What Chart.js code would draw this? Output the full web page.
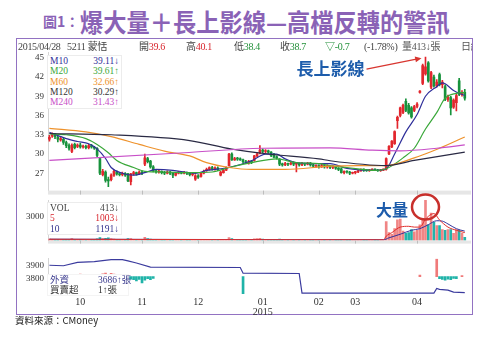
<!DOCTYPE html>
<html>
<head>
<meta charset="utf-8">
<script src="https://cdn.jsdelivr.net/npm/chart.js@4.4.1/dist/chart.umd.min.js"></script>
<style>
  body { margin: 0; width: 487px; height: 339px; background: #fff; position: relative; overflow: hidden;
         font-family: "Liberation Serif", "Noto Sans CJK TC", serif; }
  .abs { position: absolute; white-space: nowrap; }
  canvas { position: absolute; left: 0; }
  .cjk { font-family: "Noto Sans CJK TC", sans-serif; }
  #frame { left: 16px; top: 38px; width: 455px; height: 275px; border: 1.5px solid #9272c2; }
  #header { left: 17px; top: 40px; width: 455px; height: 13px; overflow: hidden; font-size: 10px; letter-spacing: -0.3px; line-height: 13px; color: #444; z-index: 5; }
  #header span { position: absolute; top: 0; }
  #header span span { position: static; }
  .up { color: #d8262d; }
  .dn { color: #23913a; }
  .lg { background: #fff; border: 1px solid #ececec; font-size: 9.5px; z-index: 5; }
  .lg div { position: relative; height: 10.3px; line-height: 10.3px; }
  .lg b { font-weight: normal; position: absolute; left: 2px; }
  .lg i { font-style: normal; position: absolute; }
  .note { color: #1d5cab; font-weight: 700; z-index: 6; line-height: 1; }
</style>
</head>
<body>
<div class="abs cjk" style="left:43px;top:14px;font-size:14px;font-weight:700;color:#8a62b6;line-height:1">圖1：</div>
<div class="abs cjk" style="left:80px;top:9px;font-size:25px;font-weight:700;color:#8a62b6;line-height:1;transform:scaleX(0.93);transform-origin:left top">爆大量＋長上影線—高檔反轉的警訊</div>
<div class="abs" id="frame"></div>

<div class="abs" id="header">
  <span style="left:1px">2015/04/28</span>
  <span style="left:50px">5211 蒙恬</span>
  <span style="left:122px">開<span class="up">39.6</span></span>
  <span style="left:169px">高<span class="up">40.1</span></span>
  <span style="left:217px">低<span class="dn">38.4</span></span>
  <span style="left:263px">收<span class="dn">38.7</span></span>
  <span class="dn" style="left:308px">▽-0.7</span>
  <span style="left:347px">(-1.78%)</span>
  <span style="left:385px;color:#555">量413↓張</span>
  <span style="left:444px;color:#555">日線</span>
</div>

<canvas id="price" width="487" height="160" style="top:40px"></canvas>
<canvas id="volume" width="487" height="62" style="top:188px"></canvas>
<canvas id="chip" width="487" height="70" style="top:249px"></canvas>

<div class="abs lg" style="left:47px;top:55px;width:73px;height:52px;">
  <div style="color:#2f2f9a"><b>M10</b><i style="right:2px">39.11↓</i></div>
  <div style="color:#3aa83a"><b>M20</b><i style="right:2px">39.61↑</i></div>
  <div style="color:#ee922c"><b>M60</b><i style="right:2px">32.66↑</i></div>
  <div style="color:#333"><b>M120</b><i style="right:2px">30.29↑</i></div>
  <div style="color:#c84fc8"><b>M240</b><i style="right:2px">31.43↑</i></div>
</div>
<div class="abs lg" style="left:47px;top:202px;width:73px;height:31px;">
  <div style="color:#444"><b>VOL</b><i style="right:2px">413↓</i></div>
  <div style="color:#d8262d"><b>5</b><i style="right:2px">1003↓</i></div>
  <div style="color:#33338e"><b>10</b><i style="right:2px">1191↓</i></div>
</div>
<div class="abs lg" style="left:47px;top:274px;width:80px;height:20px;border-color:#f4f4f4">
  <div style="color:#3b3b8e"><b>外資</b><i style="left:50px">3686↑張</i></div>
  <div style="color:#333"><b>買賣超</b><i style="left:50px">1↑張</i></div>
</div>

<div class="abs note cjk" id="noteShadow" style="font-size:17px">長上影線</div>
<div class="abs note cjk" id="noteVol" style="font-size:16px">大量</div>

<div class="abs cjk" style="left:15px;top:316px;font-size:9.5px;color:#222;line-height:1">資料來源：CMoney</div>

<script>
// daily candles, 2014/09 .. 2015/04/28
const open = [
  32.3,32.8,33.0,32.6,32.2, 32.3,31.8,31.3,30.4,31.5, 31.2,31.4,31.1,31.2,31.0, 31.3,31.0,30.9,29.3,26.8,
  27.2,26.0,26.0,26.7,27.2, 26.9,26.8,27.0,26.9,25.7, 26.9,27.1,26.9,27.2,28.4, 29.3,28.9,28.0,27.4,27.2,
  27.3,27.1,27.0,27.2,27.0, 26.7,27.0,27.2,27.0,27.1, 27.0,26.8,26.1,26.6,26.5, 27.0,27.4,27.6,27.9,27.7,
  27.8,26.7,27.1,27.5,28.2, 30.0,29.1,29.3,29.2,29.1, 28.8,28.6,28.8,29.0,29.7, 30.1,30.6,30.4,30.5,30.3,
  30.0,29.5,29.2,28.4,28.3, 28.5,28.4,28.6,28.4,28.5, 28.3,28.5,28.4,28.6,28.3, 28.1,28.2,28.0,28.2,28.0,
  28.1,27.9,28.0,27.8,27.7, 27.1,27.3,27.2,27.0,27.1, 27.2,27.4,27.6,27.5,27.4, 27.5,27.6,27.5,27.4,27.5,
  27.6,30.0,31.1,31.6,35.2, 36.0,36.5,38.2,37.6,37.2, 36.8,37.4,39.6,41.0,42.5, 44.2,40.4,42.0,40.6,42.4,
  40.8,40.5,38.5,38.8,37.3, 38.0,41.4,39.3,39.6
];
const high = [
  32.9,33.3,33.2,32.8,32.7, 32.5,32.0,31.6,31.6,31.7, 31.6,31.7,31.4,31.4,31.5, 31.5,31.2,31.0,29.5,27.6,
  27.4,26.4,26.9,27.5,27.4, 27.1,27.2,27.1,27.0,27.0, 27.3,27.2,27.4,27.4,30.0, 29.5,29.0,28.2,27.6,27.5,
  27.4,27.3,27.4,27.3,27.1, 27.1,27.3,27.3,27.3,27.2, 27.1,27.0,26.8,26.8,27.1, 27.5,27.8,28.0,28.1,28.0,
  28.0,27.3,27.6,28.0,30.1, 30.2,29.5,29.5,29.4,29.2, 29.0,29.0,29.0,29.8,30.2, 31.3,30.8,30.7,30.6,30.4,
  30.1,29.7,29.3,28.6,28.7, 28.6,28.7,28.8,28.7,28.6, 28.7,28.6,28.7,28.7,28.4, 28.3,28.3,28.4,28.3,28.3,
  28.2,28.2,28.1,27.9,27.8, 27.4,27.4,27.3,27.2,27.3, 27.5,27.7,27.7,27.6,27.6, 27.7,27.7,27.6,27.6,27.7,
  29.4,31.3,32.1,33.6,35.9, 37.3,37.8,38.6,37.9,37.4, 37.6,38.0,39.9,44.0,45.1, 44.4,42.9,42.3,41.6,42.6,
  41.5,40.8,39.2,39.0,38.6, 39.3,41.8,39.9,40.1
];
const low = [
  32.0,32.6,32.4,31.9,32.0, 31.5,31.0,30.6,30.2,30.8, 31.0,30.9,30.9,30.8,30.8, 30.9,30.7,29.6,26.8,26.6,
  25.6,24.9,25.8,26.5,26.7, 26.6,26.6,26.5,25.7,25.2, 26.7,26.7,26.8,26.8,28.2, 28.6,27.8,27.2,27.0,27.0,
  26.9,26.8,26.9,26.8,26.3, 26.6,26.9,26.9,26.9,26.8, 26.6,26.6,25.9,26.2,26.4, 26.9,27.3,27.5,27.5,27.5,
  27.4,26.6,27.0,27.4,28.1, 29.0,29.0,29.0,29.0,28.6, 28.5,28.4,28.5,28.9,29.6, 30.0,30.2,30.2,30.1,29.6,
  29.4,29.2,28.2,28.1,28.2, 28.2,28.3,28.2,27.2,28.1, 28.2,28.2,28.3,28.1,27.9, 27.9,27.8,27.9,27.8,27.8,
  27.7,27.7,27.6,27.4,27.0, 26.9,27.0,26.8,26.9,26.9, 27.1,27.3,27.3,27.3,27.3, 27.4,27.4,27.3,27.3,27.4,
  27.5,29.9,31.0,31.5,34.0, 35.8,36.3,36.6,36.2,35.6, 36.6,37.2,39.5,40.8,42.3, 41.2,40.2,40.4,40.4,40.6,
  40.3,38.3,38.2,36.1,37.1, 36.7,39.1,39.0,38.4
];
const close = [
  32.6,33.0,32.7,32.3,32.4, 31.8,31.3,30.9,31.4,31.0, 31.4,31.1,31.2,31.0,31.3, 31.1,30.9,29.8,27.0,27.3,
  25.9,25.8,26.7,27.3,26.9, 26.8,27.0,26.7,25.8,26.9, 27.1,26.9,27.2,27.0,29.4, 28.8,28.0,27.4,27.2,27.3,
  27.1,27.0,27.2,27.0,26.7, 27.0,27.2,27.0,27.1,27.0, 26.8,26.9,26.6,26.4,27.0, 27.3,27.6,27.9,27.7,27.8,
  27.6,27.2,27.5,27.9,30.0, 29.1,29.3,29.2,29.1,28.8, 28.6,28.8,28.7,29.7,30.0, 30.6,30.4,30.5,30.3,29.8,
  29.5,29.4,28.4,28.3,28.5, 28.4,28.6,28.4,28.5,28.3, 28.5,28.4,28.6,28.3,28.1, 28.2,28.0,28.2,28.0,28.1,
  27.9,28.0,27.8,27.6,27.1, 27.3,27.2,27.0,27.1,27.2, 27.4,27.6,27.5,27.4,27.5, 27.6,27.5,27.4,27.5,27.6,
  29.3,31.2,32.0,33.5,35.7, 37.2,37.6,36.8,36.4,35.8, 37.4,37.8,39.8,43.8,43.6, 41.4,42.7,40.6,41.2,40.8,
  41.2,38.5,38.9,37.2,38.4, 39.1,39.3,39.6,38.7
];
const volume = [
  180,150,120,160,140, 130,170,150,260,140, 120,150,130,110,140, 120,130,220,380,260,
  300,350,240,200,150, 130,140,120,260,240, 150,130,140,120,420, 260,200,160,140,120,
  110,100,120,100,150, 110,100,90,100,90, 100,110,160,120,140, 150,130,140,120,100,
  110,120,130,160,380, 260,150,130,110,120, 100,110,100,220,240, 300,180,150,130,140,
  150,120,180,140,110, 100,90,100,130,100, 90,80,90,100,90, 80,90,100,90,80,
  90,80,90,100,130, 110,90,100,90,80, 90,100,90,80,90, 100,90,80,90,100,
  2400,1000,800,1500,2600, 2700,1200,900,1000,1400, 1100,1300,2000,2700,5100, 2000,3450,2300,1900,1900,
  1400,1300,1400,1400,900, 1400,1300,900,413
];

// moving averages read at key days
const m10Day = [0,6,10,14,17,20,22,26,30,34,38,44,49,52,56,64,72,77,81,84,88,96,100,106,116,120,123,127,131,134,138,140,141,144,148];
const m10 = [33.4,32.4,31.95,31.6,30.8,29.3,27.9,27.0,26.7,27.1,27.6,27.45,27.15,27.0,27.45,27.9,28.95,30.0,30.0,29.25,28.65,28.5,28.5,27.75,27.45,27.7,30.0,33.45,36.15,39.0,40.5,41.1,40.95,39.9,39.11];
const m20Day = [0,6,13,17,21,24,30,34,41,50,58,64,72,81,88,96,100,106,116,120,126,130,134,138,141,145,148];
const m20 = [33.15,33.0,32.4,31.5,30.2,29.0,27.9,27.3,27.2,27.1,27.2,27.9,28.65,29.25,28.65,28.5,28.2,27.9,27.45,27.7,29.4,30.9,33.9,36.45,38.7,39.45,39.61];
const m60Day = [0,13,22,32,41,50,56,64,72,84,100,110,120,130,139,148];
const m60 = [34.0,33.45,32.7,31.5,30.45,29.7,28.65,27.9,27.6,27.6,28.1,28.2,28.2,29.4,30.9,32.66];
const m120Day = [0,22,50,65,78,96,100,120,130,148];
const m120 = [33.2,33.0,32.1,30.75,30.0,29.25,28.95,28.2,29.0,30.29];
const m240Day = [0,48,76,100,115,125,138,148];
const m240 = [29.0,30.2,30.9,30.95,30.6,30.5,30.9,31.43];

const vma5Day = [0,119,120,122,125,128,130,132,134,136,137,139,142,145,148];
const vma5 = [170,100,560,1000,1700,1800,1700,1700,2700,3300,3400,2600,1700,1300,1003];
const vma10Day = [0,119,121,125,129,132,135,138,140,142,145,148];
const vma10 = [180,110,350,800,1300,1500,2000,2500,2450,2100,1500,1191];

// foreign holdings (lots) and daily net buy/sell
const holdDay = [0,5,10,16,22,26,28,31,36,68,69,89,90,137,138,139,142,144,148];
const hold = [3902,3898,3925,3931,3946,3946,3937,3920,3887,3884,3839,3837,3682,3682,3719,3712,3706,3690,3686];
const netDay = [2,3,4,8,9,10,11,12,13,16,19,20,21,22,23,26,27,28,29,30,31,32,33,34,35,36,37,69,132,138,139,140,141,142,143,144,145,147];
const net = [4,3,4,5,6,4,7,5,4,-3,8,10,6,9,7,-6,-8,-10,-7,-9,-12,-8,-18,-10,-6,-9,-5,-49,4,49,-6,-8,-10,-7,-9,-5,-6,3];

const priceTicks = [27, 30, 33, 36, 39, 42, 45];
const volTicks = [3000];
const holdTicks = [3800, 3900];
const monthIdx = [11, 33, 53, 76, 96, 109, 131];
const monthLabels = ['10', '11', '12', ['01', '2015'], '02', '03', '04'];

const n = close.length;
const labels = Array.from({ length: n + 1 }, (_, i) => String(i));
const isUp = close.map((c, i) => c >= open[i]);
const candleColor = isUp.map(u => (u ? '#e2262d' : '#17923c'));
const volColor = isUp.map(u => (u ? '#f08585' : '#22b3aa'));

function sparse(days, vals) {
  const a = new Array(n).fill(null);
  days.forEach((d, k) => { a[d] = vals[k]; });
  return a;
}

function line(data, color, extra) {
  return Object.assign({
    type: 'line', data, borderColor: color, borderWidth: 1.2, pointRadius: 0,
    spanGaps: true, cubicInterpolationMode: 'monotone', order: 0
  }, extra);
}

function yAxis(min, max, ticks, extra) {
  return Object.assign({
    min, max,
    afterFit: s => { s.width = 48; },
    afterBuildTicks: s => { s.ticks = ticks.map(v => ({ value: v })); },
    ticks: { color: '#333', font: { family: 'Liberation Serif', size: 9 }, padding: 4, callback: v => String(v) },
    grid: { display: false, drawTicks: false },
    border: { color: '#d4d4d4' }
  }, extra);
}

// grey separator band under a panel, with month marks
const bandPlugin = {
  id: 'band',
  afterDraw(chart, args, opts) {
    if (!opts.height) return;
    const { ctx, chartArea: a, scales } = chart;
    ctx.save();
    ctx.fillStyle = '#e6e6e6';
    ctx.fillRect(a.left, a.bottom, a.right - a.left + 2, opts.height);
    ctx.strokeStyle = '#bdbdbd';
    ctx.lineWidth = 1;
    monthIdx.forEach(i => {
      const x = Math.round(scales.x.getPixelForValue(i)) + 0.5;
      ctx.beginPath();
      ctx.moveTo(x, a.bottom);
      ctx.lineTo(x, a.bottom + opts.height);
      ctx.stroke();
    });
    ctx.restore();
  }
};

const common = {
  responsive: false,
  animation: false,
  plugins: { legend: { display: false }, tooltip: { enabled: false } }
};

const peakIdx = high.indexOf(Math.max(...high));
const volPeakIdx = volume.indexOf(Math.max(...volume));

// arrow to the long upper shadow
const arrowPlugin = {
  id: 'arrow',
  afterDatasetsDraw(chart) {
    const { ctx, scales: { x, y } } = chart;
    const ex = x.getPixelForValue(peakIdx) - 4;
    const ey = y.getPixelForValue(high[peakIdx]) + 1;
    const sx = ex - 55, sy = ey + 11;
    const ang = Math.atan2(ey - sy, ex - sx);
    ctx.save();
    ctx.strokeStyle = '#d8352f';
    ctx.fillStyle = '#d8352f';
    ctx.lineWidth = 1.2;
    ctx.beginPath();
    ctx.moveTo(sx, sy);
    ctx.lineTo(ex - 4 * Math.cos(ang), ey - 4 * Math.sin(ang));
    ctx.stroke();
    ctx.beginPath();
    ctx.moveTo(ex, ey);
    ctx.lineTo(ex - 7 * Math.cos(ang - 0.45), ey - 7 * Math.sin(ang - 0.45));
    ctx.lineTo(ex - 7 * Math.cos(ang + 0.45), ey - 7 * Math.sin(ang + 0.45));
    ctx.closePath();
    ctx.fill();
    ctx.restore();
    const note = document.getElementById('noteShadow');
    note.style.left = (sx - 70) + 'px';
    note.style.top = (40 + sy - 10) + 'px';
  }
};

// red ring round the volume spike
const ringPlugin = {
  id: 'ring',
  afterDatasetsDraw(chart) {
    const { ctx, scales: { x, y } } = chart;
    const cx = x.getPixelForValue(volPeakIdx);
    const cy = y.getPixelForValue(volume[volPeakIdx]) + 7;
    ctx.save();
    ctx.strokeStyle = '#c8302c';
    ctx.lineWidth = 2.5;
    ctx.beginPath();
    ctx.ellipse(cx, cy, 13.5, 12.5, 0, 0, Math.PI * 2);
    ctx.stroke();
    ctx.restore();
    const note = document.getElementById('noteVol');
    note.style.left = (cx - 13.5 - 36) + 'px';
    note.style.top = (188 + cy - 6) + 'px';
  }
};

new Chart(document.getElementById('price'), {
  type: 'bar',
  data: {
    labels,
    datasets: [
      line(sparse(m240Day, m240), '#c84fc8'),
      line(sparse(m120Day, m120), '#2a2a44'),
      line(sparse(m60Day, m60), '#ee922c'),
      line(sparse(m20Day, m20), '#3aa83a'),
      line(sparse(m10Day, m10), '#2f2f9a'),
      { data: open.map((o, i) => [o, close[i]]), backgroundColor: candleColor, barThickness: 2,
        minBarLength: 1, grouped: false, order: 1 },
      { data: low.map((l, i) => [l, high[i]]), backgroundColor: candleColor, barThickness: 1,
        grouped: false, order: 2 }
    ]
  },
  options: Object.assign({}, common, {
    layout: { padding: { top: 12, bottom: 4, left: 0, right: 18 } },
    plugins: Object.assign({}, common.plugins, { band: { height: 4 } }),
    scales: {
      x: { display: false },
      y: yAxis(24.3, 45.9, priceTicks)
    }
  }),
  plugins: [bandPlugin, arrowPlugin]
});

new Chart(document.getElementById('volume'), {
  type: 'bar',
  data: {
    labels,
    datasets: [
      line(sparse(vma5Day, vma5), '#e0302c', { borderWidth: 1 }),
      line(sparse(vma10Day, vma10), '#33339a', { borderWidth: 1 }),
      { data: volume, backgroundColor: volColor, barThickness: 2, order: 1 }
    ]
  },
  options: Object.assign({}, common, {
    layout: { padding: { top: 12, bottom: 4, left: 0, right: 18 } },
    plugins: Object.assign({}, common.plugins, { band: { height: 3 } }),
    scales: {
      x: { display: false },
      y: yAxis(0, 5111, volTicks)
    }
  }),
  plugins: [bandPlugin, ringPlugin]
});

const netData = sparse(netDay, net);
new Chart(document.getElementById('chip'), {
  type: 'bar',
  data: {
    labels,
    datasets: [
      line(sparse(holdDay, hold), '#3b3b9e', { cubicInterpolationMode: 'default', tension: 0, yAxisID: 'y' }),
      { data: netData, backgroundColor: netData.map(v => (v > 0 ? '#f07a7a' : '#1fb3a8')),
        barThickness: 2, yAxisID: 'yNet', order: 1 }
    ]
  },
  options: Object.assign({}, common, {
    layout: { padding: { top: 0, bottom: 0, left: 0, right: 18 } },
    scales: {
      x: {
        afterFit: s => { s.height = 25; },
        afterBuildTicks: s => { s.ticks = monthIdx.map(v => ({ value: v })); },
        ticks: {
          autoSkip: false, maxRotation: 0, padding: 4, color: '#333',
          font: { family: 'Liberation Serif', size: 10, lineHeight: 0.95 },
          callback: v => monthLabels[monthIdx.indexOf(v)]
        },
        grid: { display: false, drawTicks: false },
        border: { display: false }
      },
      y: yAxis(3675, 3956, holdTicks),
      yNet: { display: false, min: -49, max: 51 }
    }
  })
});
</script>
</body>
</html>
